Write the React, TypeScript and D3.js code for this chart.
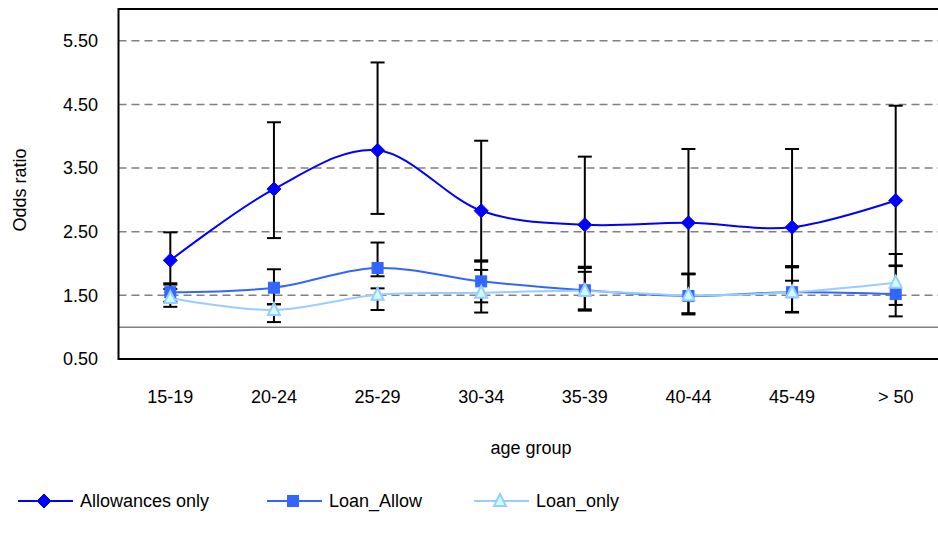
import React from "react";
import * as d3 from "d3";

const categories = ["15-19", "20-24", "25-29", "30-34", "35-39", "40-44", "45-49", "> 50"];
const yTicks = [0.5, 1.5, 2.5, 3.5, 4.5, 5.5];

const allowances = [2.05, 3.17, 3.78, 2.83, 2.61, 2.64, 2.57, 2.99];
const allowancesLow = [1.69, 2.4, 2.78, 2.05, 1.93, 1.84, 1.96, 1.97];
const allowancesHigh = [2.49, 4.22, 5.16, 3.93, 3.68, 3.8, 3.8, 4.48];

const loanAllow = [1.55, 1.62, 1.93, 1.72, 1.58, 1.49, 1.55, 1.52];
const loanAllowLow = [1.4, 1.36, 1.8, 1.39, 1.28, 1.22, 1.24, 1.17];
const loanAllowHigh = [1.67, 1.91, 2.33, 2.03, 1.95, 1.83, 1.94, 1.96];

const loanOnly = [1.46, 1.27, 1.51, 1.54, 1.57, 1.5, 1.55, 1.7];
const loanOnlyLow = [1.32, 1.08, 1.27, 1.23, 1.26, 1.2, 1.23, 1.35];
const loanOnlyHigh = [1.6, 1.36, 1.61, 1.9, 1.87, 1.84, 1.73, 2.15];

const FONT = "'Liberation Sans', Arial, sans-serif";
const FS = 18;

type Series = {
  name: string;
  values: number[];
  low: number[];
  high: number[];
  color: string;
  fill: string;
  marker: "diamond" | "square" | "triangle";
};

const series: Series[] = [
  { name: "Allowances only", values: allowances, low: allowancesLow, high: allowancesHigh, color: "#0000FF", fill: "#0000FF", marker: "diamond" },
  { name: "Loan_Allow", values: loanAllow, low: loanAllowLow, high: loanAllowHigh, color: "#3366FF", fill: "#3366FF", marker: "square" },
  { name: "Loan_only", values: loanOnly, low: loanOnlyLow, high: loanOnlyHigh, color: "#99CCFF", fill: "#CCFFFF", marker: "triangle" },
];

function Marker({ type, x, y, color, fill }: { type: string; x: number; y: number; color: string; fill: string }) {
  if (type === "diamond") {
    const s = 7;
    return <path d={`M${x},${y - s}L${x + s},${y}L${x},${y + s}L${x - s},${y}Z`} fill={fill} stroke={color} strokeWidth={1} />;
  }
  if (type === "square") {
    const s = 5.5;
    return <rect x={x - s} y={y - s} width={2 * s} height={2 * s} fill={fill} stroke={color} strokeWidth={1} />;
  }
  const s = 6;
  return (
    <path
      d={`M${x},${y - s - 1}L${x + s},${y + s - 1}L${x - s},${y + s - 1}Z`}
      fill={fill}
      stroke={color}
      strokeWidth={2}
    />
  );
}

export default function App() {
  const W = 938;
  const H = 534;
  const left = 118.5;
  const right = 947.5;
  const top = 9;
  const bottom = 359;

  const x = d3.scaleBand<string>().domain(categories).range([left, right]).padding(0);
  const cx = (c: string) => (x(c) as number) + x.bandwidth() / 2;
  const y = d3.scaleLinear().domain([0.5, 6.0]).range([bottom, top]);

  const line = d3
    .line<number>()
    .x((_, i) => cx(categories[i]))
    .y((d) => y(d))
    .curve(d3.curveCardinal.tension(0));

  const capW = 7;

  return (
    <svg width={W} height={H} style={{ position: "absolute", left: 0, top: 0, background: "#fff" }} fontFamily={FONT}>
      <rect x={0} y={0} width={W} height={H} fill="#fff" />
      {yTicks.slice(1).map((t) => (
        <line key={t} x1={left} x2={right} y1={y(t)} y2={y(t)} stroke="#808080" strokeWidth={1.5} strokeDasharray="8,5" />
      ))}
      <line x1={left} x2={right} y1={y(1)} y2={y(1)} stroke="#808080" strokeWidth={1.5} />
      <rect x={left} y={top} width={right - left} height={bottom - top} fill="none" stroke="#000" strokeWidth={2} />

      {yTicks.map((t) => (
        <text key={t} x={98} y={y(t)} dy="0.35em" textAnchor="end" fontSize={FS} fill="#000">
          {t.toFixed(2)}
        </text>
      ))}
      {categories.map((c) => (
        <text key={c} x={cx(c)} y={397} dy="0.35em" textAnchor="middle" fontSize={FS} fill="#000">
          {c}
        </text>
      ))}
      <text x={531} y={448} dy="0.35em" textAnchor="middle" fontSize={FS} fill="#000">
        age group
      </text>
      <text transform={`translate(20,190) rotate(-90)`} dy="0.35em" textAnchor="middle" fontSize={FS} fill="#000">
        Odds ratio
      </text>

      {series.map((s) => (
        <path key={s.name} d={line(s.values) || ""} fill="none" stroke={s.color} strokeWidth={2} />
      ))}
      {series.map((s) =>
        categories.map((c, i) => {
          const px = cx(c);
          return (
            <g key={s.name + c} stroke="#000" strokeWidth={2}>
              <line x1={px} x2={px} y1={y(s.low[i])} y2={y(s.high[i])} />
              <line x1={px - capW} x2={px + capW} y1={y(s.low[i])} y2={y(s.low[i])} />
              <line x1={px - capW} x2={px + capW} y1={y(s.high[i])} y2={y(s.high[i])} />
            </g>
          );
        })
      )}
      {series.map((s) =>
        categories.map((c, i) => (
          <Marker key={s.name + c + "m"} type={s.marker} x={cx(c)} y={y(s.values[i])} color={s.color} fill={s.fill} />
        ))
      )}

      {series.map((s, i) => {
        const lx = [18, 267, 474][i];
        const ly = 501;
        return (
          <g key={s.name + "leg"}>
            <line x1={lx} x2={lx + 55} y1={ly} y2={ly} stroke={s.color} strokeWidth={2} />
            <Marker type={s.marker} x={lx + 26} y={ly} color={s.color} fill={s.fill} />
            <text x={lx + 62} y={ly} dy="0.35em" fontSize={FS} fill="#000">
              {s.name}
            </text>
          </g>
        );
      })}
    </svg>
  );
}
